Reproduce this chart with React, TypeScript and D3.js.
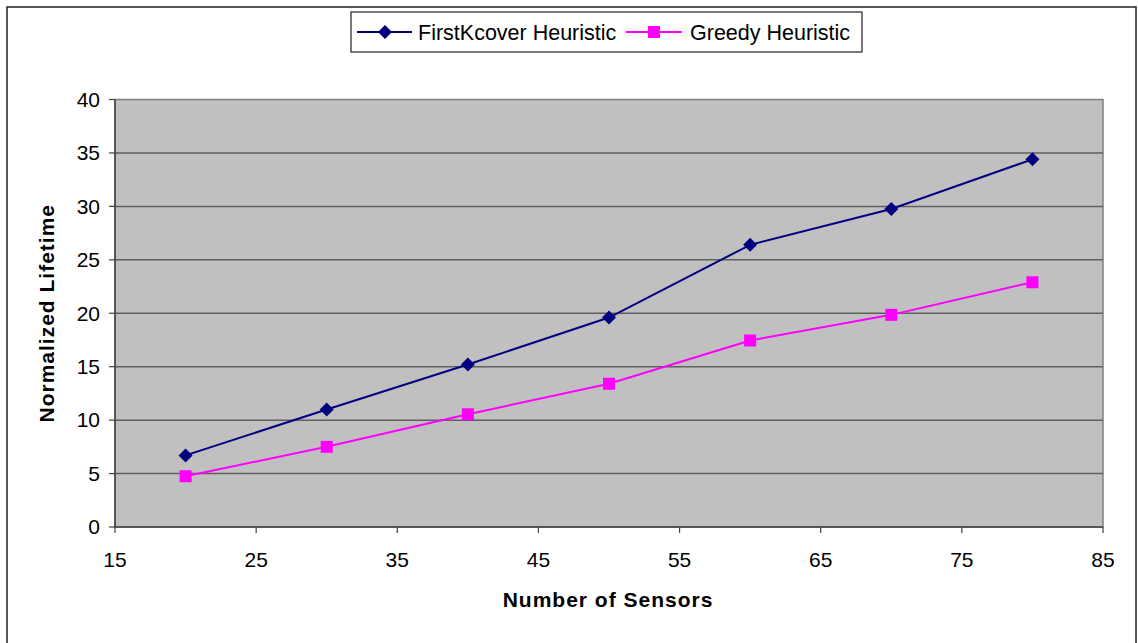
import React from "react";
import * as d3 from "d3";

const sensors = [20, 30, 40, 50, 60, 70, 80];
const firstKcover = [6.7, 11.0, 15.2, 19.6, 26.4, 29.75, 34.4];
const greedy = [4.75, 7.5, 10.55, 13.4, 17.45, 19.85, 22.9];
const xTicks = [15, 25, 35, 45, 55, 65, 75, 85];
const yTicks = [0, 5, 10, 15, 20, 25, 30, 35, 40];
const seriesNames = ["FirstKcover Heuristic", "Greedy Heuristic"];

const W = 1138;
const H = 643;
const plot = { left: 115, right: 1103, top: 99.5, bottom: 527 };
const NAVY = "#000080";
const MAGENTA = "#FF00FF";
const FONT = "Liberation Sans, Arial, sans-serif";
const FS = 21;

function Diamond({ x, y, r = 7 }: { x: number; y: number; r?: number }) {
  return <path d={`M${x},${y - r}L${x + r},${y}L${x},${y + r}L${x - r},${y}Z`} fill={NAVY} />;
}

function Square({ x, y, s = 12 }: { x: number; y: number; s?: number }) {
  return <rect x={x - s / 2} y={y - s / 2} width={s} height={s} fill={MAGENTA} />;
}

export default function App() {
  const x = d3.scaleLinear().domain([15, 85]).range([plot.left, plot.right]);
  const y = d3.scaleLinear().domain([0, 40]).range([plot.bottom, plot.top]);
  const line = d3
    .line<number>()
    .x((_, i) => x(sensors[i]))
    .y((d) => y(d));

  return (
    <svg
      width={W}
      height={H}
      style={{ position: "absolute", left: 0, top: 0, display: "block" }}
      fontFamily={FONT}
    >
      <rect x={0} y={0} width={W} height={H} fill="#fff" />
      {/* outer chart frame */}
      <rect x={7} y={7} width={1129} height={645} fill="none" stroke="#222" strokeWidth={1.5} />

      {/* plot area */}
      <rect
        x={plot.left}
        y={plot.top}
        width={plot.right - plot.left}
        height={plot.bottom - plot.top}
        fill="#C0C0C0"
        stroke="#808080"
        strokeWidth={1.5}
      />
      {yTicks
        .filter((t) => t > 0 && t < 40)
        .map((t) => (
          <line
            key={`g${t}`}
            x1={plot.left}
            x2={plot.right}
            y1={y(t)}
            y2={y(t)}
            stroke="#5f5f5f"
            strokeWidth={1.5}
          />
        ))}

      {/* axes */}
      <line x1={plot.left} x2={plot.left} y1={plot.top} y2={plot.bottom} stroke="#404040" strokeWidth={1.5} />
      <line x1={plot.left} x2={plot.right} y1={plot.bottom} y2={plot.bottom} stroke="#404040" strokeWidth={1.5} />
      {yTicks.map((t) => (
        <g key={`y${t}`}>
          <line x1={plot.left - 6} x2={plot.left} y1={y(t)} y2={y(t)} stroke="#404040" strokeWidth={1.2} />
          <text x={plot.left - 15} y={y(t)} dy="0.35em" textAnchor="end" fontSize={FS} fill="#000">
            {t}
          </text>
        </g>
      ))}
      {xTicks.map((t) => (
        <g key={`x${t}`}>
          <line x1={x(t)} x2={x(t)} y1={plot.bottom} y2={plot.bottom + 6} stroke="#404040" strokeWidth={1.2} />
          <text x={x(t)} y={560} dy="0.35em" textAnchor="middle" fontSize={FS} fill="#000">
            {t}
          </text>
        </g>
      ))}

      {/* axis titles */}
      <text
        x={608}
        y={600}
        dy="0.35em"
        textAnchor="middle"
        fontSize={FS}
        fontWeight="bold"
        letterSpacing={1}
        fill="#000"
      >
        Number of Sensors
      </text>
      <text
        transform={`translate(47,${(plot.top + plot.bottom) / 2}) rotate(-90)`}
        dy="0.35em"
        textAnchor="middle"
        fontSize={FS}
        fontWeight="bold"
        letterSpacing={1}
        fill="#000"
      >
        Normalized Lifetime
      </text>

      {/* series */}
      <path d={line(greedy) ?? ""} fill="none" stroke={MAGENTA} strokeWidth={2} />
      <path d={line(firstKcover) ?? ""} fill="none" stroke={NAVY} strokeWidth={2} />
      {greedy.map((v, i) => (
        <Square key={`s${i}`} x={x(sensors[i])} y={y(v)} />
      ))}
      {firstKcover.map((v, i) => (
        <Diamond key={`d${i}`} x={x(sensors[i])} y={y(v)} />
      ))}

      {/* legend */}
      <rect x={351} y={12} width={511} height={40} fill="#fff" stroke="#222" strokeWidth={1.2} />
      <line x1={357} x2={412} y1={32} y2={32} stroke={NAVY} strokeWidth={2} />
      <Diamond x={385} y={32} />
      <text x={418} y={32} dy="0.35em" fontSize={21.5} fill="#000">
        {seriesNames[0]}
      </text>
      <line x1={626} x2={682} y1={32} y2={32} stroke={MAGENTA} strokeWidth={2} />
      <Square x={654} y={32} />
      <text x={690} y={32} dy="0.35em" fontSize={21.5} fill="#000">
        {seriesNames[1]}
      </text>
    </svg>
  );
}
